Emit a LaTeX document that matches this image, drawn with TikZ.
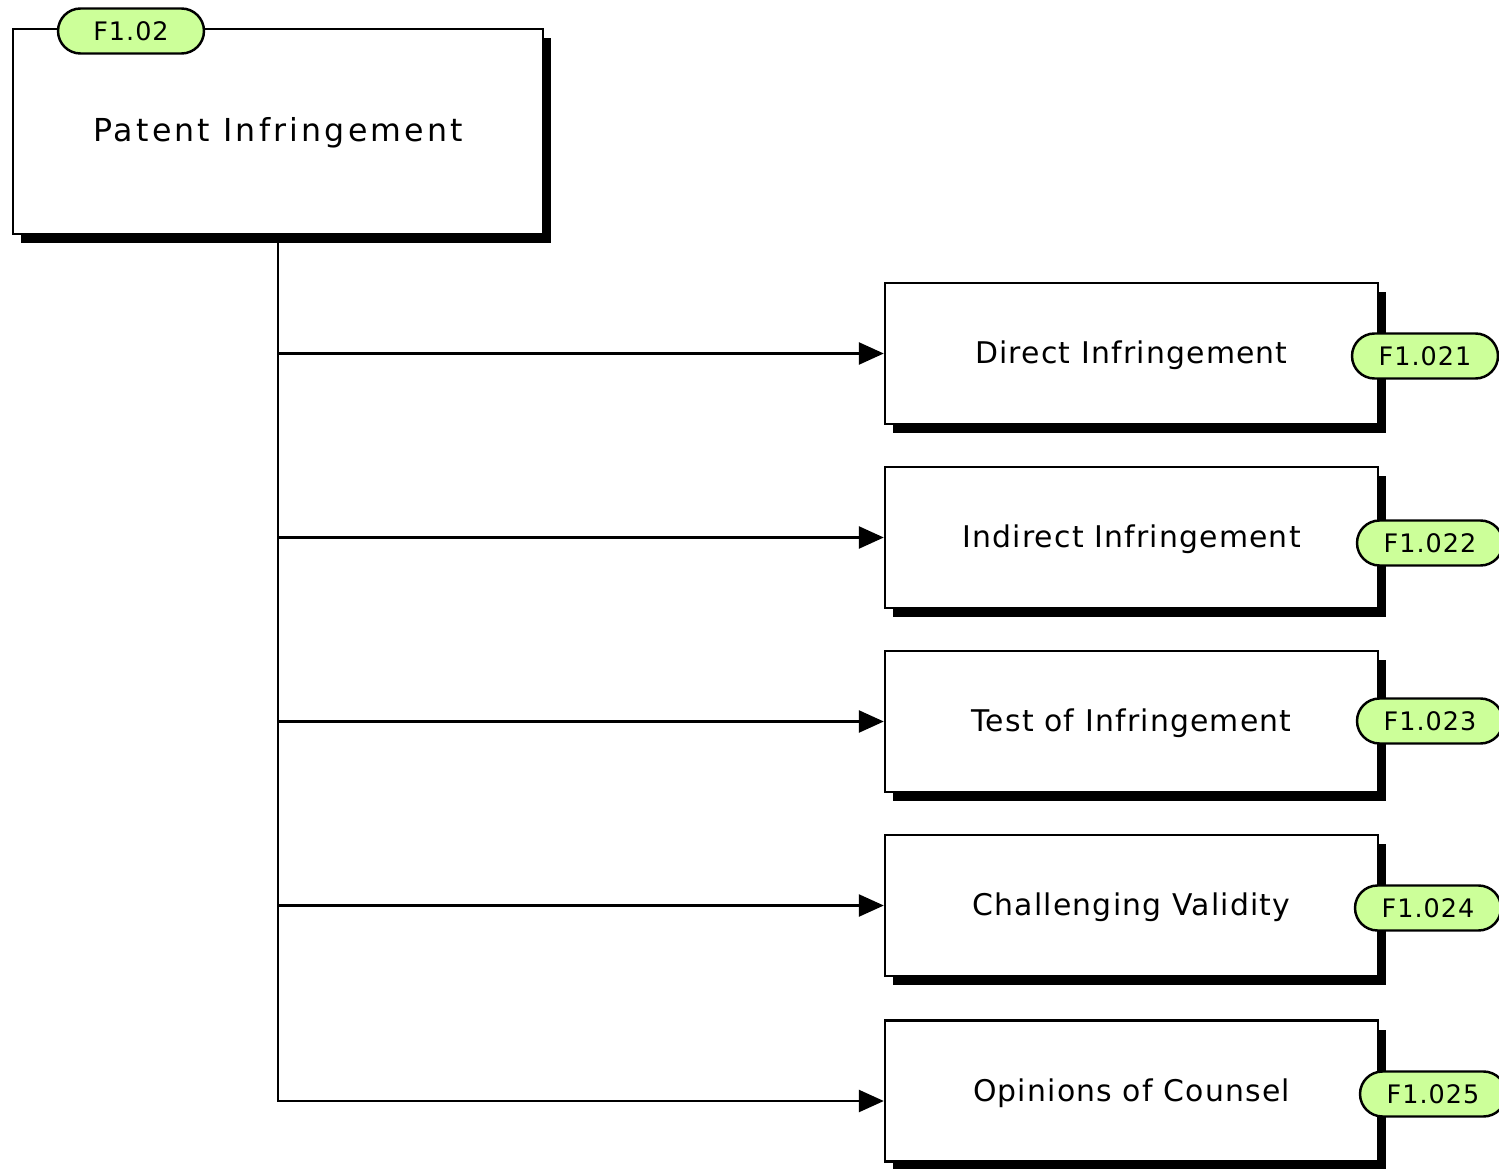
\documentclass[tikz,border=0pt]{standalone}
\usepackage{fontspec}
\setmainfont{DejaVu Sans}
\newfontfamily\titlefont[LetterSpace=10]{DejaVu Sans}
\newfontfamily\childfont[LetterSpace=4]{DejaVu Sans}
\newfontfamily\tagfont[LetterSpace=4]{DejaVu Sans}
\usetikzlibrary{shapes.misc,shadows,arrows.meta}
\definecolor{tagfill}{HTML}{CCFF99}
\tikzset{
  shadowbox/.style={draw=black, line width=1.4pt, fill=white, inner sep=0pt,
    drop shadow={shadow xshift=0.16cm, shadow yshift=-0.18cm, opacity=1, fill=black}},
  mainbox/.style={shadowbox, minimum width=10.6cm, minimum height=4.1cm,
    text height=0.5cm, text depth=0.1cm,
    font=\titlefont\fontsize{18pt}{21pt}\selectfont},
  childbox/.style={shadowbox, minimum width=9.86cm, minimum height=2.82cm,
    text height=0.5cm, text depth=0.1cm,
    font=\childfont\fontsize{17pt}{20pt}\selectfont},
  tag/.style={rounded rectangle, draw=black, line width=1.4pt, fill=tagfill,
    minimum width=2.92cm, minimum height=0.9cm, inner sep=0pt,
    font=\tagfont\fontsize{14.5pt}{17pt}\selectfont},
  conn/.style={draw=black, line width=1.4pt, -{Triangle[length=0.5cm,width=0.44cm]}},
}
\begin{document}
\begin{tikzpicture}[x=0.02cm, y=-0.02cm]
\useasboundingbox[fill=white] (0,0) rectangle (1499,1169);
\node[mainbox] (main) at (278,131.5) {Patent Infringement};
\node[childbox] (c1) at (1131.5,353.5) {Direct Infringement};
\node[childbox] (c2) at (1131.5,537.5) {Indirect Infringement};
\node[childbox] (c3) at (1131.5,721.5) {Test of Infringement};
\node[childbox] (c4) at (1131.5,905.5) {Challenging Validity};
\node[childbox] (c5) at (1131.5,1091) {Opinions of Counsel};
\node[tag] (t0) at (131,31) {F1.02};
\node[tag] (t1) at (1425,356) {F1.021};
\node[tag] (t2) at (1430,543) {F1.022};
\node[tag] (t3) at (1430,721) {F1.023};
\node[tag] (t4) at (1428,908) {F1.024};
\node[tag] (t5) at (1433,1094) {F1.025};
\draw[conn] (main.south) |- (c1.west);
\draw[conn] (main.south) |- (c2.west);
\draw[conn] (main.south) |- (c3.west);
\draw[conn] (main.south) |- (c4.west);
\draw[conn] (main.south) |- ([yshift=-0.2cm]c5.west);
\end{tikzpicture}
\end{document}
